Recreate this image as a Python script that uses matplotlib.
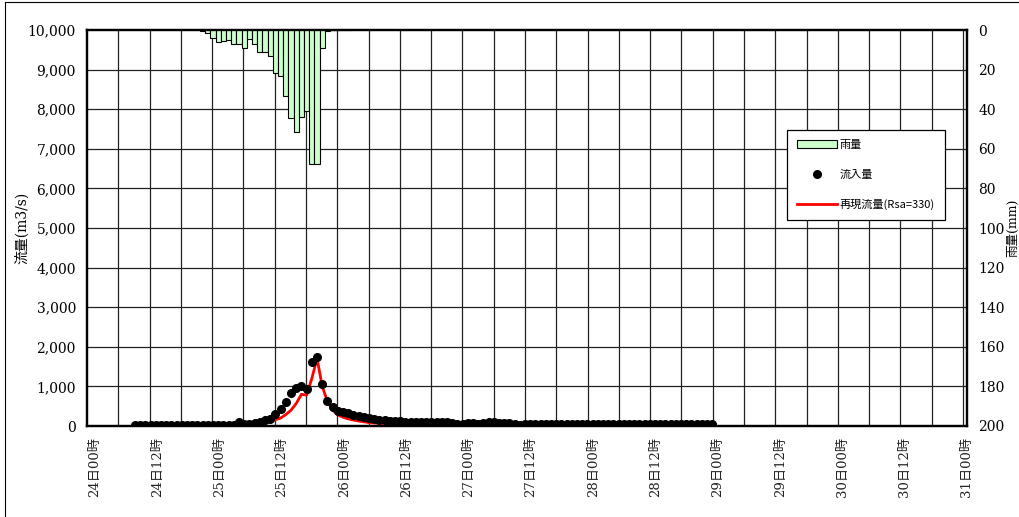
import numpy as np
import matplotlib
matplotlib.use("Agg")
import matplotlib.pyplot as plt
from matplotlib.patches import Rectangle, Patch
from matplotlib.lines import Line2D

plt.rcParams['font.family'] = ['DejaVu Serif', 'Noto Sans CJK JP']

# ---- data ----
x_labels = ["24日00時", "24日12時", "25日00時", "25日12時", "26日00時", "26日12時",
            "27日00時", "27日12時", "28日00時", "28日12時", "29日00時", "29日12時",
            "30日00時", "30日12時", "31日00時"]

rain_start = 20.7  # hours after 24日00時
rain_mm = [0.3, 1.7, 4.2, 6.3, 5.6, 5.2, 7.2, 7.2, 9.0, 4.7, 7.1, 11.3, 11.3, 13.1,
           21.9, 23.2, 33.5, 44.4, 51.6, 44.0, 40.9, 67.6, 67.6, 9.0, 0.5, 0.2, 0.2,
           0.2, 0.2]

flow_start = 7.7  # hours after 24日00時
inflow = ([30] * 20 +
          [90, 60, 60, 65, 90, 150, 185, 300, 420, 600, 825, 970, 1020, 940, 1620,
           1750, 1050, 640, 470, 385, 350, 320, 285, 250, 225, 200, 175, 160, 145,
           130, 120, 115, 110, 110, 105, 105, 100, 100, 100, 95, 90, 70, 60, 55, 65,
           70, 60, 80, 105, 100, 75, 70, 80, 60, 15, 55] +
          [60] * 36)
simulated = ([20] * 20 +
             [35, 40, 45, 60, 85, 110, 130, 160, 200, 290, 400, 570, 800, 780, 1200,
              1710, 1000, 620, 400, 280, 220, 180, 150, 125, 105, 85, 75, 68, 62, 58] +
             [55] * 11 + [50] * 51)

rain_t = rain_start + np.arange(len(rain_mm))
flow_t = flow_start + np.arange(len(inflow))

# ---- figure ----
fig = plt.figure(figsize=(10.19, 5.17), dpi=100)
fig.patches.append(Rectangle((5 / 1019, -0.5), 2, 1.5 - 2 / 517, transform=fig.transFigure,
                             fill=False, edgecolor='black', linewidth=0.8))
ax = fig.add_axes([87 / 1019, 1 - 426 / 517, 880 / 1019, 396 / 517])

xmin, xmax = -1.54, 167.7
ax.set_xlim(xmin, xmax)
ax.set_ylim(0, 10000)

# grid
for gx in np.linspace(xmin, 166.92, 29)[1:]:
    ax.axvline(gx, color='#222222', linewidth=0.9, zorder=1)
for gy in range(1000, 10000, 1000):
    ax.axhline(gy, color='#222222', linewidth=0.9, zorder=1)

ax.plot(flow_t, simulated, color='#ff0000', linewidth=2, zorder=3)
ax.plot(flow_t, inflow, linestyle='none', marker='o', markersize=5.5,
        color='black', zorder=4)

ax.set_yticks(range(0, 10001, 1000))
ax.set_yticklabels([f"{v:,}" for v in range(0, 10001, 1000)], fontsize=10)
ax.set_xticks(np.linspace(0, xmax, 15))
ax.set_xticklabels(x_labels, rotation=90, fontsize=9.5, va='top', ha='center',
                   color='#222222')
ax.tick_params(axis='x', length=0, pad=8)
ax.tick_params(axis='y', length=0, pad=8)
ax.set_ylabel("流量(m3/s)", fontsize=10)
ax.yaxis.set_label_coords(-0.066, 0.5)
for s in ax.spines.values():
    s.set_linewidth(1.6)

ax2 = ax.twinx()
ax2.set_ylim(200, 0)
ax2.bar(rain_t, rain_mm, width=1.0, color='#ccffcc', edgecolor='black',
        linewidth=0.8, zorder=2)
ax2.set_yticks(range(0, 201, 20))
ax2.set_yticklabels([str(v) for v in range(0, 201, 20)], fontsize=10)
ax2.tick_params(axis='y', length=0, pad=8)
ax2.set_ylabel("雨量(mm)", fontsize=9, rotation=90)
ax2.yaxis.set_label_coords(1.0445, 0.5)
for s in ax2.spines.values():
    s.set_linewidth(1.6)

handles = [Patch(facecolor='#ccffcc', edgecolor='black', linewidth=0.8),
           Line2D([], [], linestyle='none', marker='o', markersize=5.5, color='black'),
           Line2D([], [], color='#ff0000', linewidth=2)]
labels = ["雨量", "流入量", "再現流量(Rsa=330)"]
leg = ax2.legend(handles, labels, loc='upper left', bbox_to_anchor=(0.795, 0.747),
                 frameon=True, fancybox=False, framealpha=1,
                 edgecolor='black', labelspacing=1.75, handlelength=3.6,
                 handletextpad=0.3, borderpad=0.9, borderaxespad=0,
                 prop={'family': ['Noto Sans CJK JP', 'DejaVu Sans'], 'size': 8})
leg.get_frame().set_linewidth(0.9)

fig.savefig("out.png", dpi=100)
